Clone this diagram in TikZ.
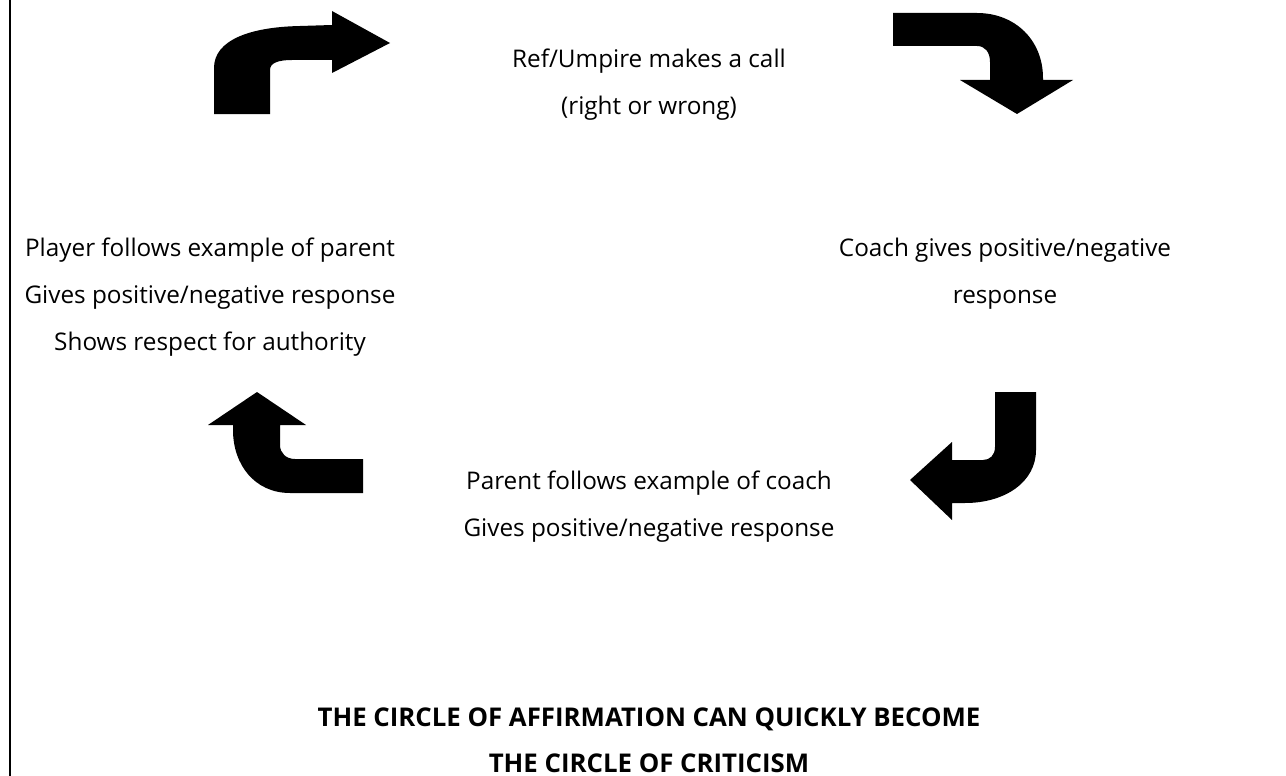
\documentclass[tikz,border=0pt]{standalone}
\usepackage{fontspec}
\setmainfont{Open Sans}
\usepackage{tikz}
\usetikzlibrary{positioning}

\begin{document}
\begin{tikzpicture}[x=1pt,y=-1pt,
  txt/.style={align=center,inner sep=0pt,font=\fontsize{24.3}{47}\selectfont},
  bold/.style={txt,font=\fontsize{25.8}{46}\selectfont\bfseries},
  bentarrow/.style={fill=black}]
\useasboundingbox (0,0) rectangle (1286,776);
\draw[line width=2pt] (10,0) -- (10,776);

\node[txt]  (Ref)    at (649,85)  {Ref/Umpire makes a call\\(right or wrong)};
\node[txt]  (Coach)  at (1005,274) {Coach gives positive/negative\\response};
\node[txt]  (Parent) at (649,507) {Parent follows example of coach\\Gives positive/negative response};
\node[txt]  (Player) at (210,297) {Player follows example of parent\\Gives positive/negative response\\Shows respect for authority};
\node[bold] (Title)  at (649,740) {THE CIRCLE OF AFFIRMATION CAN QUICKLY BECOME\\THE CIRCLE OF CRITICISM};

% top left, up then right
\fill[bentarrow] (214,114) -- (214,68) .. controls (214,40) and (250,27) .. (300,26)
  -- (332,25) -- (332,11) -- (390,43) -- (332,73) -- (332,60) -- (292,60)
  .. controls (278,60) and (270,63) .. (270,70) -- (270,114) -- cycle;
% top right, right then down
\fill[bentarrow] (893,13) -- (977,13) .. controls (1015,13) and (1043,40) .. (1043,78)
  -- (1043,80) -- (1073,80) -- (1017,114) -- (960,80) -- (990,80) -- (990,62)
  .. controls (990,52) and (985,46) .. (977,46) -- (893,46) -- cycle;
% bottom right, down then left
\fill[bentarrow] (995,392) -- (1036,392) -- (1036,450) .. controls (1036,482) and (1005,503) .. (965,503)
  -- (952,503) -- (952,520) -- (910,480) -- (952,442) -- (952,460) -- (983,460)
  .. controls (990,460) and (995,455) .. (995,447) -- cycle;
% bottom left, left then up
\fill[bentarrow] (363,459) -- (363,493) -- (290,493) .. controls (255,493) and (233,465) .. (233,430)
  -- (233,425) -- (208,425) -- (257,392) -- (306,425) -- (280,425) -- (280,445)
  .. controls (280,453) and (286,459) .. (295,459) -- cycle;
\end{tikzpicture}
\end{document}
